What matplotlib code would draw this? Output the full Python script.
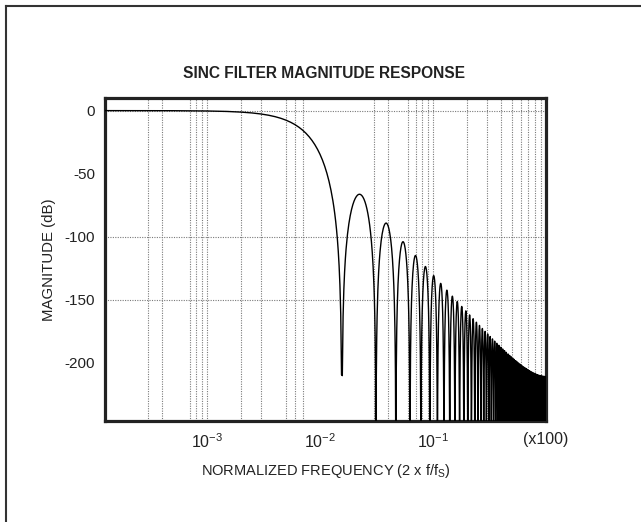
import numpy as np
import matplotlib
matplotlib.use("Agg")
import matplotlib.pyplot as plt
from matplotlib.lines import Line2D
from matplotlib import font_manager

# ---- data (filter model) ----
DECIMATION = 128          # nulls every 2/128 = 1/64 of normalized frequency
ORDER = 5                 # first sidelobe ~ -66 dB -> sinc^5
N_POINTS = 4000           # linear frequency grid used by the original plot
F_START = 1.25e-4         # left end of the plotted frequency range
freq = np.concatenate([[F_START], np.linspace(0.0, 1.0, N_POINTS + 1)[1:]])
num = np.abs(np.sin(np.pi * freq * DECIMATION / 2))
den = DECIMATION * np.abs(np.sin(np.pi * freq / 2))
mag_db = 20 * ORDER * np.log10(np.maximum(num / den, 1e-300))

x_ticks = [1e-3, 1e-2, 1e-1, 1.0]
x_tick_labels = [r"$\mathregular{10^{-3}}$", r"$\mathregular{10^{-2}}$",
                 r"$\mathregular{10^{-1}}$", "(x100)"]
y_ticks = [0, -50, -100, -150, -200]
y_tick_labels = ["0", "-50", "-100", "-150", "-200"]
h_grid = [0, -100, -150]
v_grid = [3e-4, 4e-4, 7e-4, 8e-4, 9e-4, 1e-3,
          2e-3, 3e-3, 5e-3, 6e-3, 7e-3,
          3e-2, 4e-2, 6e-2, 7e-2, 8e-2, 9e-2, 1e-1,
          2e-1, 3e-1, 4e-1, 5e-1, 6e-1, 7e-1, 8e-1, 9e-1]

title = "SINC FILTER MAGNITUDE RESPONSE"
xlabel = r"NORMALIZED FREQUENCY (2 x f/f$\mathregular{_S}$)"
ylabel = "MAGNITUDE (dB)"

# ---- figure ----
W, H = 641, 522
fig = plt.figure(figsize=(W / 100, H / 100), dpi=100)
fig.patch.set_facecolor("white")

installed = {f.name for f in font_manager.fontManager.ttflist}
has_narrow = "Liberation Sans Narrow" in installed
regular = ["Liberation Sans", "DejaVu Sans"]
plt.rcParams["mathtext.fontset"] = "custom"
plt.rcParams["mathtext.rm"] = "Liberation Sans"

# outer border (top and left only)
fig.add_artist(Line2D([6 / W, 1.0], [1 - 6 / H, 1 - 6 / H], color="#333333", lw=1.5,
                      transform=fig.transFigure))
fig.add_artist(Line2D([6 / W, 6 / W], [0.0, 1 - 6 / H], color="#333333", lw=1.5,
                      transform=fig.transFigure))

ax_l, ax_r, ax_t, ax_b = 105, 546, 98, 421
ax = fig.add_axes([ax_l / W, 1 - ax_b / H, (ax_r - ax_l) / W, (ax_b - ax_t) / H])
ax.set_xscale("log")
ax.set_xlim(F_START, 1.0)
ax.set_ylim(-246, 10)

for g in v_grid:
    ax.axvline(g, color="#7a7a7a", lw=0.8, ls=(0, (1, 1.2)), zorder=1)
for g in h_grid:
    ax.axhline(g, color="#7a7a7a", lw=0.8, ls=(0, (1, 1.2)), zorder=1)

ax.plot(freq, mag_db, color="black", lw=1.0, zorder=3)

ax.set_xticks(x_ticks)
ax.set_xticklabels(x_tick_labels, fontsize=11.5, family=regular, color="#222222")
ax.minorticks_off()
ax.set_yticks(y_ticks)
ax.set_yticklabels(y_tick_labels, fontsize=11, family=regular, color="#222222")
ax.tick_params(axis="both", length=0)
ax.tick_params(axis="x", pad=8)
ax.tick_params(axis="y", pad=7)

for s in ax.spines.values():
    s.set_linewidth(2.3)
    s.set_color("#222222")

ax.set_ylabel(ylabel, fontsize=10.8, family=regular, color="#222222", labelpad=6)
ax.set_xlabel(xlabel, fontsize=10.5, family=regular, color="#222222", labelpad=8)

if has_narrow:
    fig.text(324 / W, 1 - 74 / H, title, ha="center", va="center",
             fontsize=12.3, fontweight="bold", family=["Liberation Sans Narrow"],
             color="#222222")
else:
    fig.text(324 / W, 1 - 74 / H, title, ha="center", va="center",
             fontsize=11.2, fontweight="bold", family=regular, color="#222222")

fig.savefig("out.png", dpi=100)
